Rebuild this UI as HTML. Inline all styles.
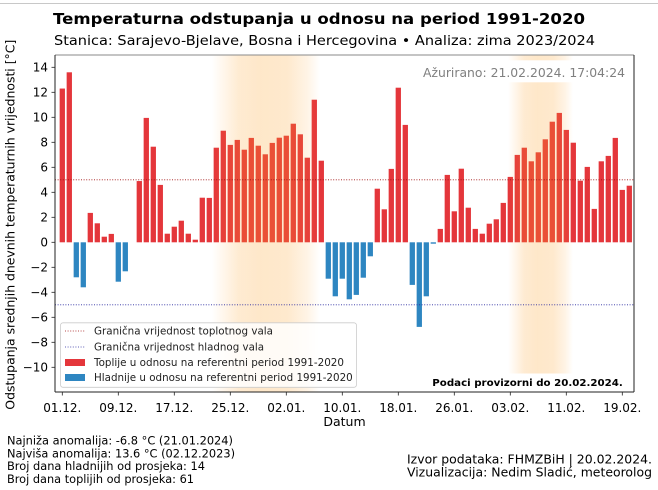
<!DOCTYPE html>
<html><head><meta charset="utf-8"><style>
html,body{margin:0;padding:0;background:#fff;}
svg{display:block;font-family:"DejaVu Sans","Liberation Sans",sans-serif;}
</style></head><body>
<svg width="658" height="490" viewBox="0 0 658 490" xmlns="http://www.w3.org/2000/svg">
<defs>
<linearGradient id="sh" x1="0" x2="1" y1="0" y2="0">
<stop offset="0" stop-color="rgb(253,160,40)" stop-opacity="0"/>
<stop offset="0.12" stop-color="rgb(253,160,40)" stop-opacity="0.1"/>
<stop offset="0.25" stop-color="rgb(253,160,40)" stop-opacity="0.21"/>
<stop offset="0.45" stop-color="rgb(253,160,40)" stop-opacity="0.25"/>
<stop offset="0.7" stop-color="rgb(253,160,40)" stop-opacity="0.23"/>
<stop offset="0.88" stop-color="rgb(253,160,40)" stop-opacity="0.12"/>
<stop offset="1" stop-color="rgb(253,160,40)" stop-opacity="0"/>
</linearGradient>
</defs>
<rect width="658" height="490" fill="#fff"/>
<line x1="0" y1="3.5" x2="658" y2="3.5" stroke="#c8c8c8" stroke-width="1"/>

<!-- title -->
<text x="53" y="24" font-size="15.5" font-weight="bold" fill="#000" textLength="532" lengthAdjust="spacingAndGlyphs">Temperaturna odstupanja u odnosu na period 1991-2020</text>
<text x="54" y="45" font-size="13.7" fill="#000" textLength="541" lengthAdjust="spacingAndGlyphs">Stanica: Sarajevo-Bjelave, Bosna i Hercegovina • Analiza: zima 2023/2024</text>

<!-- bars -->
<g fill="#e4363b">
<rect x="59.65" y="88.55" width="5.3" height="153.75"/>
<rect x="66.65" y="72.3" width="5.3" height="170"/>
<rect x="87.65" y="212.9" width="5.3" height="29.4"/>
<rect x="94.65" y="223.3" width="5.3" height="19"/>
<rect x="101.65" y="236.7" width="5.3" height="5.6"/>
<rect x="108.65" y="233.9" width="5.3" height="8.4"/>
<rect x="136.65" y="181.05" width="5.3" height="61.25"/>
<rect x="143.65" y="117.9" width="5.3" height="124.4"/>
<rect x="150.65" y="146.7" width="5.3" height="95.6"/>
<rect x="157.65" y="184.9" width="5.3" height="57.4"/>
<rect x="164.65" y="233.7" width="5.3" height="8.6"/>
<rect x="171.65" y="226.7" width="5.3" height="15.6"/>
<rect x="178.65" y="220.7" width="5.3" height="21.6"/>
<rect x="185.65" y="233.7" width="5.3" height="8.6"/>
<rect x="192.65" y="239.7" width="5.3" height="2.6"/>
<rect x="199.65" y="197.7" width="5.3" height="44.6"/>
<rect x="206.65" y="197.9" width="5.3" height="44.4"/>
<rect x="213.65" y="147.7" width="5.3" height="94.6"/>
<rect x="220.65" y="130.7" width="5.3" height="111.6"/>
<rect x="227.65" y="144.9" width="5.3" height="97.4"/>
<rect x="234.65" y="139.9" width="5.3" height="102.4"/>
<rect x="241.65" y="149.7" width="5.3" height="92.6"/>
<rect x="248.65" y="137.9" width="5.3" height="104.4"/>
<rect x="255.65" y="145.7" width="5.3" height="96.6"/>
<rect x="262.65" y="154.3" width="5.3" height="88"/>
<rect x="269.65" y="142.9" width="5.3" height="99.4"/>
<rect x="276.65" y="137.7" width="5.3" height="104.6"/>
<rect x="283.65" y="135.7" width="5.3" height="106.6"/>
<rect x="290.65" y="123.7" width="5.3" height="118.6"/>
<rect x="297.65" y="134.3" width="5.3" height="108"/>
<rect x="304.65" y="157.7" width="5.3" height="84.6"/>
<rect x="311.65" y="99.7" width="5.3" height="142.6"/>
<rect x="318.65" y="160.7" width="5.3" height="81.6"/>
<rect x="374.65" y="188.7" width="5.3" height="53.6"/>
<rect x="381.65" y="209.3" width="5.3" height="33"/>
<rect x="388.65" y="168.9" width="5.3" height="73.4"/>
<rect x="395.65" y="87.7" width="5.3" height="154.6"/>
<rect x="402.65" y="124.9" width="5.3" height="117.4"/>
<rect x="437.65" y="228.9" width="5.3" height="13.4"/>
<rect x="444.65" y="174.9" width="5.3" height="67.4"/>
<rect x="451.65" y="211.3" width="5.3" height="31"/>
<rect x="458.65" y="168.7" width="5.3" height="73.6"/>
<rect x="465.65" y="207.7" width="5.3" height="34.6"/>
<rect x="472.65" y="228.9" width="5.3" height="13.4"/>
<rect x="479.65" y="233.7" width="5.3" height="8.6"/>
<rect x="486.65" y="223.7" width="5.3" height="18.6"/>
<rect x="493.65" y="219.3" width="5.3" height="23"/>
<rect x="500.65" y="202.9" width="5.3" height="39.4"/>
<rect x="507.65" y="176.9" width="5.3" height="65.4"/>
<rect x="514.65" y="154.9" width="5.3" height="87.4"/>
<rect x="521.65" y="147.7" width="5.3" height="94.6"/>
<rect x="528.65" y="161.3" width="5.3" height="81"/>
<rect x="535.65" y="152.3" width="5.3" height="90"/>
<rect x="542.65" y="139.3" width="5.3" height="103"/>
<rect x="549.65" y="121.7" width="5.3" height="120.6"/>
<rect x="556.65" y="112.9" width="5.3" height="129.4"/>
<rect x="563.65" y="129.9" width="5.3" height="112.4"/>
<rect x="570.65" y="142.7" width="5.3" height="99.6"/>
<rect x="577.65" y="180.7" width="5.3" height="61.6"/>
<rect x="584.65" y="166.9" width="5.3" height="75.4"/>
<rect x="591.65" y="208.9" width="5.3" height="33.4"/>
<rect x="598.65" y="161.3" width="5.3" height="81"/>
<rect x="605.65" y="155.9" width="5.3" height="86.4"/>
<rect x="612.65" y="137.9" width="5.3" height="104.4"/>
<rect x="619.65" y="189.9" width="5.3" height="52.4"/>
<rect x="626.65" y="185.7" width="5.3" height="56.6"/>
</g>
<g fill="#2e86c1">
<rect x="73.65" y="242.3" width="5.3" height="35"/>
<rect x="80.65" y="242.3" width="5.3" height="45"/>
<rect x="115.65" y="242.3" width="5.3" height="39.4"/>
<rect x="122.65" y="242.3" width="5.3" height="29"/>
<rect x="325.65" y="242.3" width="5.3" height="36.4"/>
<rect x="332.65" y="242.3" width="5.3" height="54"/>
<rect x="339.65" y="242.3" width="5.3" height="36.4"/>
<rect x="346.65" y="242.3" width="5.3" height="57"/>
<rect x="353.65" y="242.3" width="5.3" height="52.6"/>
<rect x="360.65" y="242.3" width="5.3" height="35.4"/>
<rect x="367.65" y="242.3" width="5.3" height="14"/>
<rect x="409.65" y="242.3" width="5.3" height="42.6"/>
<rect x="416.65" y="242.3" width="5.3" height="84.6"/>
<rect x="423.65" y="242.3" width="5.3" height="54"/>
<rect x="430.65" y="242.3" width="5.3" height="1.4"/>
</g>

<!-- shading bands -->
<rect x="211.7" y="55" width="108.3" height="337" fill="url(#sh)"/>
<rect x="508" y="55" width="65" height="337" fill="url(#sh)"/>

<!-- threshold lines -->
<line x1="55" y1="179.8" x2="634" y2="179.8" stroke="#a01010" stroke-width="0.8" stroke-dasharray="1,1.6"/>
<line x1="55" y1="304.8" x2="634" y2="304.8" stroke="#2a2aa0" stroke-width="0.8" stroke-dasharray="1,1.6"/>

<!-- update box -->
<rect x="418" y="60.3" width="213" height="22" fill="#fff"/>
<text x="625" y="77" font-size="12.4" fill="#808080" text-anchor="end" textLength="202" lengthAdjust="spacingAndGlyphs">Ažurirano: 21.02.2024. 17:04:24</text>

<!-- provisional box -->
<rect x="428" y="373.5" width="200" height="18" fill="#fff"/>
<text x="432.3" y="386" font-size="10" font-weight="bold" fill="#000" textLength="190.5" lengthAdjust="spacingAndGlyphs">Podaci provizorni do 20.02.2024.</text>

<!-- legend -->
<rect x="60.5" y="322.8" width="296" height="64.5" rx="2.5" fill="#fff" fill-opacity="0.82" stroke="#cccccc" stroke-width="0.8"/>
<line x1="65" y1="331" x2="85" y2="331" stroke="#a01010" stroke-width="0.8" stroke-dasharray="1,1.6"/>
<line x1="65" y1="347" x2="85" y2="347" stroke="#2a2aa0" stroke-width="0.8" stroke-dasharray="1,1.6"/>
<rect x="65" y="359" width="20" height="7" fill="#e4363b"/>
<rect x="65" y="374" width="20" height="7" fill="#2e86c1"/>
<g font-size="10.3" fill="#222">
<text x="94" y="334.7" textLength="179" lengthAdjust="spacingAndGlyphs">Granična vrijednost toplotnog vala</text>
<text x="94" y="350.7" textLength="170" lengthAdjust="spacingAndGlyphs">Granična vrijednost hladnog vala</text>
<text x="94" y="366" textLength="250" lengthAdjust="spacingAndGlyphs">Toplije u odnosu na referentni period 1991-2020</text>
<text x="94" y="381" textLength="258.7" lengthAdjust="spacingAndGlyphs">Hladnije u odnosu na referentni period 1991-2020</text>
</g>

<!-- spines -->
<line x1="55" y1="55" x2="634" y2="55" stroke="#8a8a8a" stroke-width="1"/>
<line x1="55" y1="55" x2="55" y2="392" stroke="#222" stroke-width="1"/>
<line x1="634" y1="55" x2="634" y2="392" stroke="#222" stroke-width="1"/>
<line x1="55" y1="392" x2="634" y2="392" stroke="#222" stroke-width="1"/>

<!-- y ticks -->
<g stroke="#222" stroke-width="0.8">
<line x1="51.5" y1="67.3" x2="55" y2="67.3"/>
<line x1="51.5" y1="92.3" x2="55" y2="92.3"/>
<line x1="51.5" y1="117.3" x2="55" y2="117.3"/>
<line x1="51.5" y1="142.3" x2="55" y2="142.3"/>
<line x1="51.5" y1="167.3" x2="55" y2="167.3"/>
<line x1="51.5" y1="192.3" x2="55" y2="192.3"/>
<line x1="51.5" y1="217.3" x2="55" y2="217.3"/>
<line x1="51.5" y1="242.3" x2="55" y2="242.3"/>
<line x1="51.5" y1="267.3" x2="55" y2="267.3"/>
<line x1="51.5" y1="292.3" x2="55" y2="292.3"/>
<line x1="51.5" y1="317.3" x2="55" y2="317.3"/>
<line x1="51.5" y1="342.3" x2="55" y2="342.3"/>
<line x1="51.5" y1="367.3" x2="55" y2="367.3"/>
</g>
<g font-size="12" fill="#000" text-anchor="end">
<text x="48" y="71.6">14</text>
<text x="48" y="96.6">12</text>
<text x="48" y="121.6">10</text>
<text x="48" y="146.6">8</text>
<text x="48" y="171.6">6</text>
<text x="48" y="196.6">4</text>
<text x="48" y="221.6">2</text>
<text x="48" y="246.6">0</text>
<text x="48" y="271.6">−2</text>
<text x="48" y="296.6">−4</text>
<text x="48" y="321.6">−6</text>
<text x="48" y="346.6">−8</text>
<text x="48" y="371.6">−10</text>
</g>

<!-- x ticks -->
<g stroke="#222" stroke-width="0.8">
<line x1="62.3" y1="392" x2="62.3" y2="395.5"/>
<line x1="118.3" y1="392" x2="118.3" y2="395.5"/>
<line x1="174.3" y1="392" x2="174.3" y2="395.5"/>
<line x1="230.3" y1="392" x2="230.3" y2="395.5"/>
<line x1="286.3" y1="392" x2="286.3" y2="395.5"/>
<line x1="342.3" y1="392" x2="342.3" y2="395.5"/>
<line x1="398.3" y1="392" x2="398.3" y2="395.5"/>
<line x1="454.3" y1="392" x2="454.3" y2="395.5"/>
<line x1="510.3" y1="392" x2="510.3" y2="395.5"/>
<line x1="566.3" y1="392" x2="566.3" y2="395.5"/>
<line x1="622.3" y1="392" x2="622.3" y2="395.5"/>
</g>
<g font-size="12" fill="#000" text-anchor="middle">
<text x="62.3" y="412">01.12.</text>
<text x="118.3" y="412">09.12.</text>
<text x="174.3" y="412">17.12.</text>
<text x="230.3" y="412">25.12.</text>
<text x="286.3" y="412">02.01.</text>
<text x="342.3" y="412">10.01.</text>
<text x="398.3" y="412">18.01.</text>
<text x="454.3" y="412">26.01.</text>
<text x="510.3" y="412">03.02.</text>
<text x="566.3" y="412">11.02.</text>
<text x="622.3" y="412">19.02.</text>
</g>
<text x="344.5" y="426" font-size="12.5" fill="#000" text-anchor="middle">Datum</text>

<!-- y label -->
<text transform="translate(14.5,224.7) rotate(-90)" font-size="12.5" fill="#000" text-anchor="middle" textLength="370" lengthAdjust="spacingAndGlyphs">Odstupanja srednjih dnevnih temperaturnih vrijednosti [°C]</text>

<!-- bottom left -->
<g font-size="11.3" fill="#000">
<text x="7" y="444.5" textLength="226" lengthAdjust="spacingAndGlyphs">Najniža anomalija: -6.8 °C (21.01.2024)</text>
<text x="7" y="457.3" textLength="228" lengthAdjust="spacingAndGlyphs">Najviša anomalija: 13.6 °C (02.12.2023)</text>
<text x="7" y="470.1" textLength="198" lengthAdjust="spacingAndGlyphs">Broj dana hladnijih od prosjeka: 14</text>
<text x="7" y="482.9" textLength="187" lengthAdjust="spacingAndGlyphs">Broj dana toplijih od prosjeka: 61</text>
</g>
<!-- bottom right -->
<g font-size="12.5" fill="#000">
<text x="407" y="463.3" textLength="245" lengthAdjust="spacingAndGlyphs">Izvor podataka: FHMZBiH | 20.02.2024.</text>
<text x="407" y="476.7" textLength="245" lengthAdjust="spacingAndGlyphs">Vizualizacija: Nedim Sladić, meteorolog</text>
</g>
</svg>
</body></html>
